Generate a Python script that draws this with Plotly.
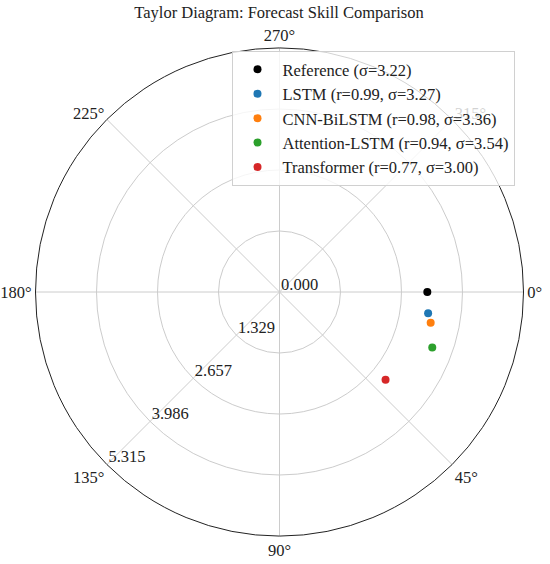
import numpy as np
import plotly.graph_objects as go

# ---- data ----
ref_name = "Reference"
ref_std = 3.22
models = ["LSTM", "CNN-BiLSTM", "Attention-LSTM", "Transformer"]
corrs = [0.99, 0.98, 0.94, 0.77]
stds = [3.27, 3.36, 3.54, 3.00]
colors = ["#1f77b4", "#ff7f0e", "#2ca02c", "#d62728"]
r_tickvals = [0.0, 1.329, 2.657, 3.986, 5.315]
r_ticktext = ["0.000", "1.329", "2.657", "3.986", "5.315"]
theta_tickvals = [0, 45, 90, 135, 180, 225, 270, 315]
theta_ticktext = [f"{v}°" for v in theta_tickvals]

FONT = "Liberation Serif, Times New Roman, serif"
FS = 16.5
TXT = "#222"

fig = go.Figure()
fig.add_trace(go.Scatterpolar(
    r=[ref_std], theta=[0], mode="markers",
    marker=dict(color="black", size=8),
    name=f"{ref_name} (σ={ref_std:.2f})"))
for m, c, s, col in zip(models, corrs, stds, colors):
    fig.add_trace(go.Scatterpolar(
        r=[s], theta=[float(np.degrees(np.arccos(c)))], mode="markers",
        marker=dict(color=col, size=8),
        name=f"{m} (r={c:.2f}, σ={s:.2f})"))
# invisible carrier trace for the overlay subplot that holds the radial tick labels
fig.add_trace(go.Scatterpolar(
    r=[ref_std], theta=[0], mode="markers", subplot="polar2",
    marker=dict(color="rgba(0,0,0,0)", size=1), showlegend=False, hoverinfo="skip"))

W, H = 550, 564
cx, cy, R = 279.5, 292, 244
# radial tick labels sit up-right of their tick point (offset in pixels)
lx, ly = -7, -19


def dom(ox=0, oy=0):
    return dict(x=[(cx - R + ox) / W, (cx + R + ox) / W],
                y=[1 - (cy + R + oy) / H, 1 - (cy - R + oy) / H])


fig.update_layout(
    width=W, height=H,
    margin=dict(l=0, r=0, t=0, b=0),
    paper_bgcolor="white",
    font=dict(family=FONT, size=FS, color=TXT),
    title=dict(text="Taylor Diagram: Forecast Skill Comparison",
               x=279 / W, xanchor="center", y=1 - 12 / H, yanchor="middle",
               font=dict(family=FONT, size=FS, color=TXT)),
    polar=dict(
        domain=dom(),
        bgcolor="white",
        angularaxis=dict(direction="clockwise", rotation=0,
                         tickvals=theta_tickvals, ticktext=theta_ticktext,
                         ticks="", showline=True, linecolor="#222", linewidth=1,
                         gridcolor="#cccccc", gridwidth=1,
                         tickfont=dict(family=FONT, size=FS, color=TXT)),
        radialaxis=dict(range=[0, 5.315], tickvals=r_tickvals,
                        showticklabels=False, showline=False, ticks="",
                        angle=225, gridcolor="#cccccc", gridwidth=1),
    ),
    polar2=dict(
        domain=dom(lx, ly),
        bgcolor="rgba(0,0,0,0)",
        angularaxis=dict(direction="clockwise", rotation=0, visible=False,
                         showline=False, showgrid=False, showticklabels=False, ticks=""),
        radialaxis=dict(range=[0, 5.315], tickvals=r_tickvals, ticktext=r_ticktext,
                        angle=225, tickangle=-135, side="counterclockwise",
                        showline=False, showgrid=False, ticks="",
                        tickfont=dict(family=FONT, size=FS, color=TXT)),
    ),
    legend=dict(x=231.5 / W, y=1 - 51 / H, xanchor="left", yanchor="top",
                itemwidth=40,
                bgcolor="rgba(255,255,255,0.8)", bordercolor="#d0d0d0", borderwidth=1,
                font=dict(family=FONT, size=FS, color=TXT)),
    showlegend=True,
)
fig.write_html("out.html", config={"displayModeBar": False},
               post_script="document.body.style.margin='0';")
